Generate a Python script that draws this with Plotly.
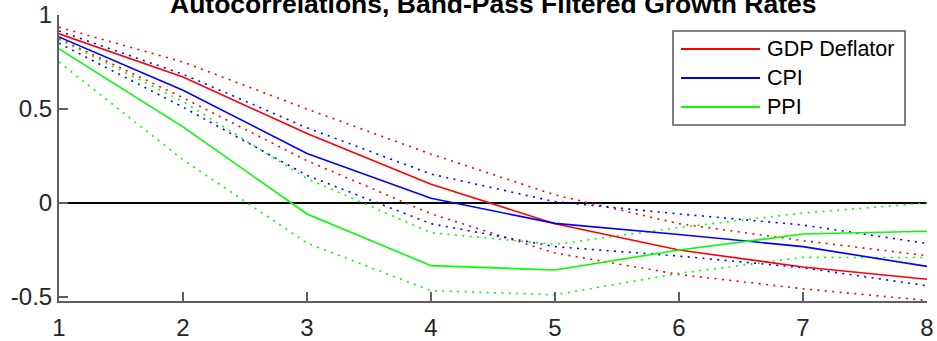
import plotly.graph_objects as go

lags = [1, 2, 3, 4, 5, 6, 7, 8]

gdp_mid = [0.90, 0.67, 0.37, 0.10, -0.11, -0.25, -0.34, -0.405]
gdp_hi = [0.935, 0.75, 0.50, 0.26, 0.043, -0.11, -0.20, -0.28]
gdp_lo = [0.875, 0.56, 0.225, -0.057, -0.266, -0.38, -0.456, -0.518]

cpi_mid = [0.883, 0.60, 0.264, 0.025, -0.108, -0.167, -0.232, -0.337]
cpi_hi = [0.915, 0.685, 0.40, 0.154, 0.007, -0.058, -0.117, -0.215]
cpi_lo = [0.85, 0.51, 0.147, -0.11, -0.232, -0.282, -0.344, -0.44]

ppi_mid = [0.82, 0.405, -0.058, -0.333, -0.356, -0.25, -0.165, -0.15]
ppi_hi = [0.87, 0.54, 0.13, -0.158, -0.22, -0.13, -0.053, 0.0]
ppi_lo = [0.75, 0.23, -0.213, -0.466, -0.488, -0.374, -0.289, -0.29]

series_names = ["GDP Deflator", "CPI", "PPI"]
series_colors = ["#ff0000", "#0000ff", "#00ff00"]

y_tickvals = [-0.5, 0, 0.5, 1]
y_ticktext = ["-0.5", "0", "0.5", "1"]
x_tickvals = lags
x_ticktext = [str(v) for v in lags]

title_text = "Autocorrelations, Band-Pass Filtered Growth Rates"

W, H = 937, 341
L, R, T, B = 59, 10, 15, 40
PW, PH = W - L - R, H - T - B

FONT = "Liberation Sans, Arial, sans-serif"
TXT = "#262626"
AX = "#5f5f5f"

fig = go.Figure()

groups = [
    (gdp_mid, gdp_hi, gdp_lo),
    (cpi_mid, cpi_hi, cpi_lo),
    (ppi_mid, ppi_hi, ppi_lo),
]

# dotted bands first, then solid lines
for (mid, hi, lo), name, col in zip(groups, series_names, series_colors):
    for band in (hi, lo):
        fig.add_trace(go.Scatter(x=lags, y=band, mode="lines", showlegend=False,
                                 line=dict(color=col, width=1.6, dash="2px,5.4px"),
                                 hoverinfo="skip"))
for (mid, hi, lo), name, col in zip(groups, series_names, series_colors):
    fig.add_trace(go.Scatter(x=lags, y=mid, mode="lines", name=name, showlegend=False,
                             line=dict(color=col, width=1.6)))

def px_to_paper(xp, yp):
    return (xp - L) / PW, (H - B - yp) / PH

shapes = []
annotations = []

# legend box
x0, y0 = px_to_paper(673, 125)
x1, y1 = px_to_paper(905, 31)
shapes.append(dict(type="rect", xref="paper", yref="paper", x0=x0, y0=y0, x1=x1, y1=y1,
                   line=dict(color=AX, width=1.6), fillcolor="white", layer="above"))
for i, (name, col) in enumerate(zip(series_names, series_colors)):
    yp = 49 + 29 * i
    lx0, ly = px_to_paper(681, yp)
    lx1, _ = px_to_paper(760, yp)
    shapes.append(dict(type="line", xref="paper", yref="paper", x0=lx0, x1=lx1, y0=ly, y1=ly,
                       line=dict(color=col, width=2), layer="above"))
    tx, _ = px_to_paper(765, yp)
    annotations.append(dict(text=name, xref="paper", yref="paper", x=tx, y=ly,
                            xanchor="left", yanchor="middle", showarrow=False,
                            font=dict(family=FONT, size=21.5, color="#000000")))

annotations.append(dict(text="<b>" + title_text + "</b>", xref="paper", yref="paper",
                        x=0.5, y=1, xanchor="center", yanchor="bottom", yshift=-6,
                        showarrow=False, font=dict(family=FONT, size=26.5, color="#000000")))

fig.update_layout(
    width=W, height=H,
    margin=dict(l=L, r=R, t=T, b=B, pad=0, autoexpand=False),
    paper_bgcolor="white", plot_bgcolor="white",
    showlegend=False,
    shapes=shapes, annotations=annotations,
    xaxis=dict(range=[1, 8], tickvals=x_tickvals, ticktext=x_ticktext, automargin=False,
               showgrid=False, zeroline=False, showline=True, linecolor=AX, linewidth=2,
               ticks="inside", ticklen=9, tickwidth=2, tickcolor=AX,
               tickfont=dict(family=FONT, size=24, color=TXT), ticklabelstandoff=4),
    yaxis=dict(range=[-0.521, 1.0], tickvals=y_tickvals, ticktext=y_ticktext, automargin=False,
               showgrid=False, zeroline=True, zerolinecolor="#000000", zerolinewidth=1.6,
               showline=True, linecolor=AX, linewidth=2,
               ticks="inside", ticklen=9, tickwidth=2, tickcolor=AX,
               tickfont=dict(family=FONT, size=24, color=TXT), ticklabelstandoff=0),
)

fig.write_html("out.html")
